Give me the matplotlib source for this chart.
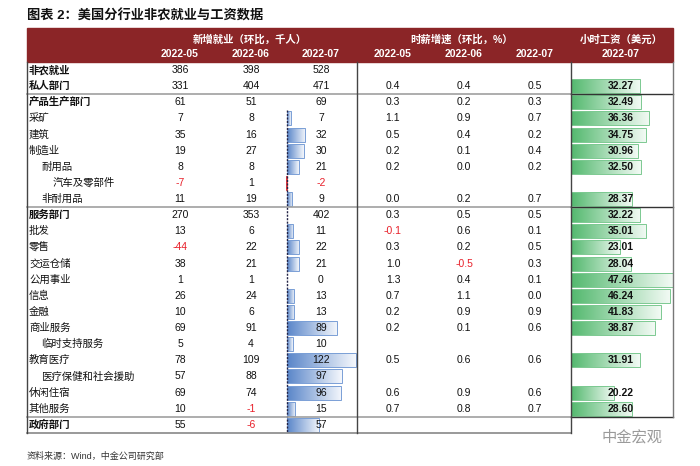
import numpy as np
import matplotlib.pyplot as plt
from matplotlib.colors import LinearSegmentedColormap

plt.rcParams['font.family'] = ['Liberation Sans', 'Noto Sans CJK SC', 'DejaVu Sans']

# --- data ---
labels = ['非农就业', '私人部门', '产品生产部门', '采矿', '建筑', '制造业', '耐用品', '汽车及零部件',
          '非耐用品', '服务部门', '批发', '零售', '交运仓储', '公用事业', '信息', '金融', '商业服务',
          '临时支持服务', '教育医疗', '医疗保健和社会援助', '休闲住宿', '其他服务', '政府部门']
indent = [0, 0, 0, 0, 0, 0, 1, 2, 1, 0, 0, 0, 0, 0, 0, 0, 0, 1, 0, 1, 0, 0, 0]
bold_rows = ['非农就业', '私人部门', '产品生产部门', '服务部门', '政府部门']

jobs_may = [386, 331, 61, 7, 35, 19, 8, -7, 11, 270, 13, -44, 38, 1, 26, 10, 69, 5, 78, 57, 69, 10, 55]
jobs_jun = [398, 404, 51, 8, 16, 27, 8, 1, 19, 353, 6, 22, 21, 1, 24, 6, 91, 4, 109, 88, 74, -1, -6]
jobs_jul = [528, 471, 69, 7, 32, 30, 21, -2, 9, 402, 11, 22, 21, 0, 13, 13, 89, 10, 122, 97, 96, 15, 57]
# rows of jobs_jul that carry a data bar
jobs_bar = [False, False, False] + [True] * 6 + [False] + [True] * 13

wage_may = [None, 0.4, 0.3, 1.1, 0.5, 0.2, 0.2, None, 0.0, 0.3, -0.1, 0.3, 1.0, 1.3, 0.7, 0.2, 0.2, None, 0.5, None, 0.6, 0.7, None]
wage_jun = [None, 0.4, 0.2, 0.9, 0.4, 0.1, 0.0, None, 0.2, 0.5, 0.6, 0.2, -0.5, 0.4, 1.1, 0.9, 0.1, None, 0.6, None, 0.9, 0.8, None]
wage_jul = [None, 0.5, 0.3, 0.7, 0.2, 0.4, 0.2, None, 0.7, 0.5, 0.1, 0.5, 0.3, 0.1, 0.0, 0.9, 0.6, None, 0.6, None, 0.6, 0.7, None]
hourly = [None, 32.27, 32.49, 36.36, 34.75, 30.96, 32.50, None, 28.37, 32.22, 35.01, 23.01, 28.04, 47.46,
          46.24, 41.83, 38.87, None, 31.91, None, 20.22, 28.60, None]

months = ['2022-05', '2022-06', '2022-07']

# --- layout (pixel space) ---
W, H = 700, 466
fig = plt.figure(figsize=(7, 4.66), dpi=100)
ax = fig.add_axes([0, 0, 1, 1])
ax.set_xlim(0, W)
ax.set_ylim(H, 0)
ax.axis('off')

red = '#8B2527'
x0, x_mid, x_r, x1 = 27, 357, 571, 673
y_head0, y_head1 = 28, 62
row0, dy = 70, 16.13
row_h = 14
col_jobs = [180, 251, 321]
col_wage = [393, 464, 535]
col_hour = 621
bar0_jobs = 287
jobs_scale = (x_mid - 1 - bar0_jobs) / max(v for v, b in zip(jobs_jul, jobs_bar) if b)
hour_scale = (x1 - x_r) / max(h for h in hourly if h is not None)

ax.text(x0, 16, '图表 2：美国分行业非农就业与工资数据', fontsize=9.5, fontweight='bold', va='center', color='#111111')

# header band
ax.add_patch(plt.Rectangle((x0, y_head0), x1 - x0, y_head1 - y_head0, color=red, zorder=1))
hkw = dict(color='white', fontsize=7.5, fontweight='bold', ha='center', va='center')
ax.text(250, 40, '新增就业（环比，千人）', **hkw)
ax.text(462, 40, '时薪增速（环比，%）', **hkw)
ax.text(621, 40, '小时工资（美元）', **hkw)
for i, m in enumerate(months):
    ax.text(col_jobs[i], 54, m, **hkw)
    ax.text(col_wage[i], 54, m, **hkw)
ax.text(col_hour, 54, months[2], **hkw)

blue_cmap = LinearSegmentedColormap.from_list('b', ['#5A86C9', '#F4F7FC'])
green_cmap = LinearSegmentedColormap.from_list('g', ['#54B96F', '#F2FAF4'])
red_cmap = LinearSegmentedColormap.from_list('r', ['#F4E8E8', '#E0393E'])
grad = np.linspace(0, 1, 64).reshape(1, -1)


def grad_bar(xa, xb, yc, cmap, edge):
    if xb - xa < 0.5:
        return
    ax.imshow(grad, cmap=cmap, aspect='auto', extent=(xa, xb, yc + row_h / 2, yc - row_h / 2),
              zorder=2, interpolation='bicubic')
    ax.add_patch(plt.Rectangle((xa, yc - row_h / 2), xb - xa, row_h, fill=False,
                               edgecolor=edge, lw=0.7, zorder=3))


def fmt_num(v, dec):
    return f'{v:.{dec}f}' if dec else f'{v:d}'


for i, lab in enumerate(labels):
    y = row0 + i * dy
    is_bold = lab in bold_rows
    ax.text(x0 + 2 + indent[i] * 12, y, lab, fontsize=7.5, va='center',
            fontweight='bold' if is_bold else 'normal', color='#111111')
    # jobs
    for c, series in enumerate([jobs_may, jobs_jun, jobs_jul]):
        v = series[i]
        ax.text(col_jobs[c], y, fmt_num(v, 0), fontsize=7.5, ha='center', va='center',
                color='#E8202A' if v < 0 else '#111111', zorder=5)
    if jobs_bar[i]:
        v = jobs_jul[i]
        if v >= 0:
            grad_bar(bar0_jobs, bar0_jobs + v * jobs_scale, y, blue_cmap, '#7A9FD6')
        else:
            grad_bar(bar0_jobs + v * jobs_scale, bar0_jobs, y, red_cmap, '#E0393E')
    # wage growth
    for c, series in enumerate([wage_may, wage_jun, wage_jul]):
        v = series[i]
        if v is None:
            continue
        ax.text(col_wage[c], y, fmt_num(v, 1), fontsize=7.5, ha='center', va='center',
                color='#E8202A' if v < 0 else '#111111')
    # hourly wage
    h = hourly[i]
    if h is not None:
        grad_bar(x_r, x_r + h * hour_scale, y, green_cmap, '#7CC991')
        ax.text(col_hour, y, f'{h:.2f}', fontsize=7.5, fontweight='bold', ha='center', va='center',
                color='#111111', zorder=5)

# dashed axis for the job bars
y_top = row0 + 3 * dy - dy / 2
y_bot = row0 + 22 * dy + dy / 2
ax.plot([bar0_jobs, bar0_jobs], [y_top, y_bot], color='#222244', lw=1.0, ls=(0, (1.5, 1)), zorder=4)

# grid lines
y_bottom_right = row0 + 21 * dy + dy / 2
for k in [1, 8, 21]:
    yl = row0 + k * dy + dy / 2
    ax.plot([x0, x_r], [yl, yl], color='#A0A0A0', lw=1.2, zorder=4)
    ax.plot([x_r, x1], [yl, yl], color='#333333', lw=1.0, zorder=4)
ax.plot([x0, x_r], [y_bot, y_bot], color='#888888', lw=1.2, zorder=4)
ax.plot([x0, x0], [y_head1, y_bot], color='#444444', lw=1.0, zorder=4)
ax.plot([x_mid, x_mid], [y_head1, y_bot], color='#444444', lw=1.0, zorder=4)
ax.plot([x_r, x_r], [y_head1, y_bot], color='#444444', lw=1.0, zorder=4)
ax.plot([x1, x1], [y_head1, y_bottom_right], color='#777777', lw=1.0, zorder=4)

# watermark and source
ax.text(602, 437, '中金宏观', fontsize=11, color='#9A9A9A', va='center')
ax.text(x0, 456, '资料来源：Wind，中金公司研究部', fontsize=6.5, color='#333333', va='center')

fig.savefig('out.png', dpi=100)
